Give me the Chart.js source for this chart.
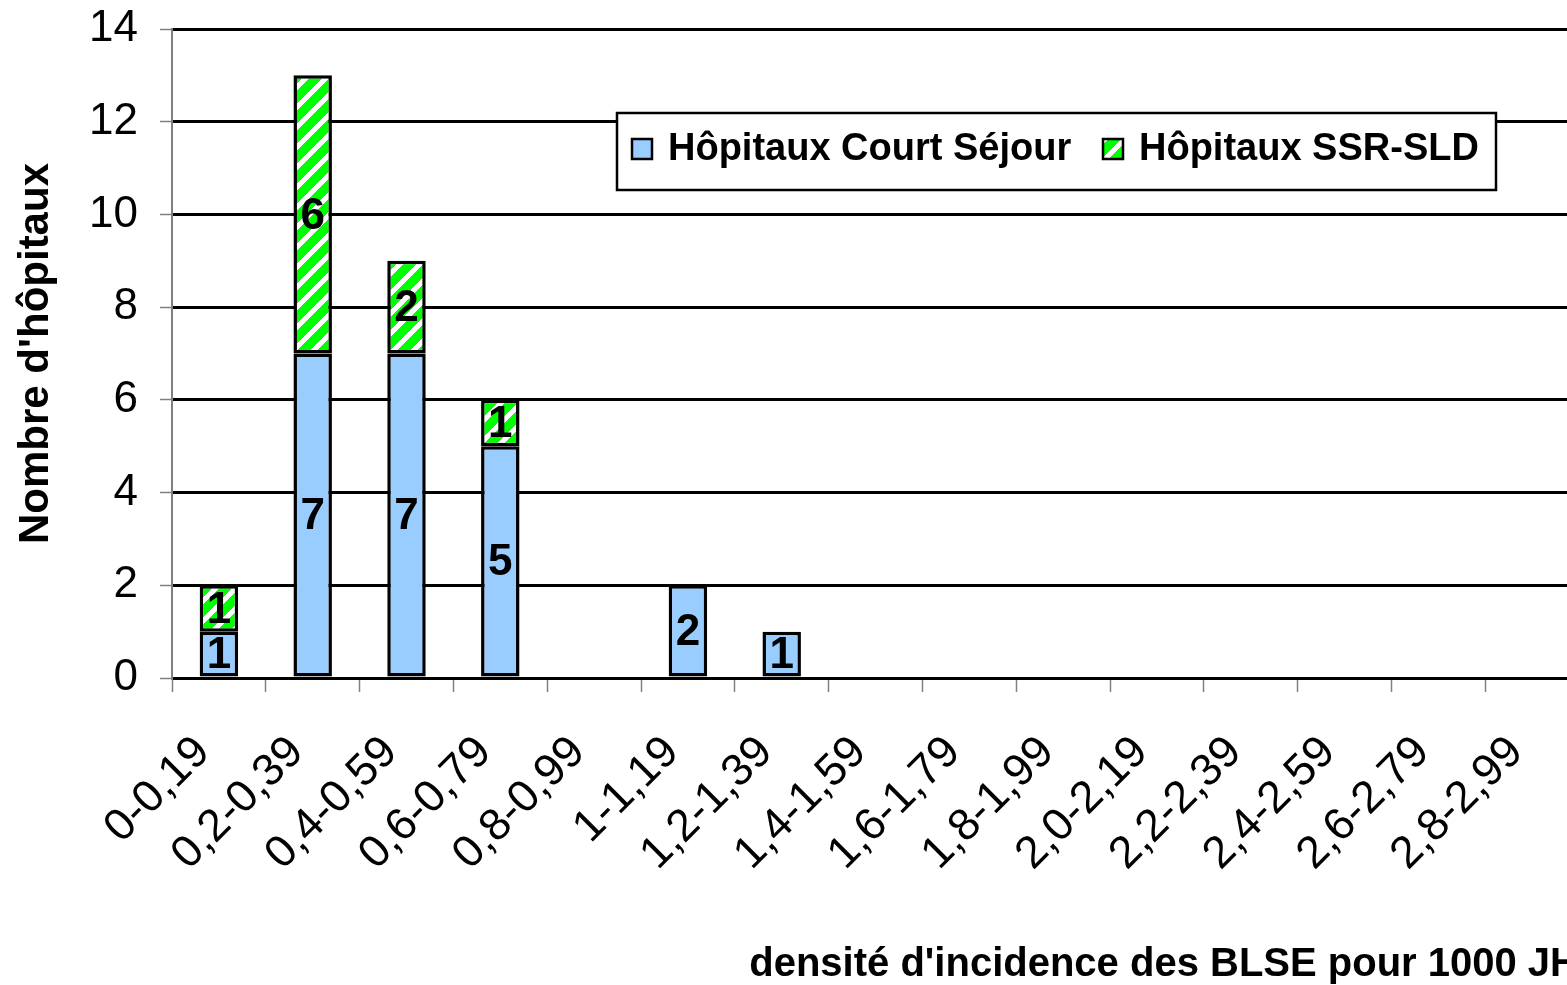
<!DOCTYPE html>
<html>
<head>
<meta charset="utf-8">
<script src="https://cdn.jsdelivr.net/npm/chart.js@4.4.1/dist/chart.umd.min.js"></script>
<style>
  html, body { margin: 0; padding: 0; background: #fff; overflow: hidden; }
  #wrap { width: 1600px; height: 985px; }
</style>
</head>
<body>
<div id="wrap"><canvas id="graphBLSE" width="1600" height="985"></canvas></div>
<script>
// Classes de densité d'incidence (axe X)
const categories = ['0-0,19', '0,2-0,39', '0,4-0,59', '0,6-0,79', '0,8-0,99', '1-1,19', '1,2-1,39',
  '1,4-1,59', '1,6-1,79', '1,8-1,99', '2,0-2,19', '2,2-2,39', '2,4-2,59', '2,6-2,79', '2,8-2,99'];

// Nombre d'hôpitaux par type
const courtSejour = [1, 7, 7, 5, 0, 2, 1, 0, 0, 0, 0, 0, 0, 0, 0];
const ssrSld      = [1, 6, 2, 1, 0, 0, 0, 0, 0, 0, 0, 0, 0, 0, 0];

const seriesNames = ['Hôpitaux Court Séjour', 'Hôpitaux SSR-SLD'];
const yTicks = [0, 2, 4, 6, 8, 10, 12, 14];

const BLEU = '#99CCFF';

// Motif hachuré vert/blanc (diagonales "/")
function hachures() {
  const s = 20, w = 7;
  const c = document.createElement('canvas');
  c.width = s; c.height = s;
  const g = c.getContext('2d');
  const img = g.createImageData(s, s);
  for (let y = 0; y < s; y++) {
    for (let x = 0; x < s; x++) {
      const i = (y * s + x) * 4;
      const blanc = ((x + y) % s) < w;
      img.data[i] = blanc ? 255 : 0;
      img.data[i + 1] = 255;
      img.data[i + 2] = blanc ? 255 : 0;
      img.data[i + 3] = 255;
    }
  }
  g.putImageData(img, 0, 0);
  return c;
}
const ctx = document.getElementById('graphBLSE').getContext('2d');
const motifVert = ctx.createPattern(hachures(), 'repeat');

// Valeurs au centre de chaque segment
const etiquettes = {
  id: 'etiquettes',
  afterDatasetsDraw(chart) {
    const c = chart.ctx;
    c.save();
    c.font = 'bold 44px "Liberation Sans", Arial, sans-serif';
    c.fillStyle = '#000';
    c.textAlign = 'center';
    c.textBaseline = 'middle';
    chart.data.datasets.forEach((ds, di) => {
      chart.getDatasetMeta(di).data.forEach((bar, i) => {
        const v = ds.data[i];
        if (!v) return;
        c.fillText(String(v), bar.x, (bar.y + bar.base) / 2 + 2);
      });
    });
    c.restore();
  }
};

// Légende encadrée à l'intérieur du graphique
const legendeBoite = {
  id: 'legendeBoite',
  afterDraw(chart) {
    const c = chart.ctx;
    c.save();
    c.fillStyle = '#fff';
    c.fillRect(617, 113, 879, 77);
    c.strokeStyle = '#000';
    c.lineWidth = 2.5;
    c.strokeRect(617, 113, 879, 77);
    c.font = 'bold 38px "Liberation Sans", Arial, sans-serif';
    c.textBaseline = 'middle';
    c.textAlign = 'left';
    const items = [
      { x: 632, fill: BLEU, text: seriesNames[0] },
      { x: 1103, fill: motifVert, text: seriesNames[1] }
    ];
    items.forEach(it => {
      c.fillStyle = it.fill;
      c.fillRect(it.x, 139, 20, 20);
      c.strokeStyle = '#000';
      c.lineWidth = 2.5;
      c.strokeRect(it.x, 139, 20, 20);
      c.fillStyle = '#000';
      c.fillText(it.text, it.x + 36, 150);
    });
    c.restore();
  }
};

new Chart(ctx, {
  type: 'bar',
  data: {
    labels: categories,
    datasets: [
      {
        label: seriesNames[0],
        data: courtSejour,
        backgroundColor: BLEU,
        borderColor: '#000',
        borderWidth: 3.5,
        borderSkipped: false,
        barPercentage: 0.41,
        categoryPercentage: 1
      },
      {
        label: seriesNames[1],
        data: ssrSld,
        backgroundColor: motifVert,
        borderColor: '#000',
        borderWidth: 3.5,
        borderSkipped: false,
        barPercentage: 0.41,
        categoryPercentage: 1
      }
    ]
  },
  options: {
    responsive: false,
    animation: false,
    layout: { padding: { top: 29, left: 0, right: 21, bottom: 0 } },
    plugins: {
      legend: { display: false },
      tooltip: { enabled: false }
    },
    scales: {
      x: {
        stacked: true,
        afterFit: (s) => { s.height = 307; s.paddingLeft = 0; s.paddingRight = 0; },
        grid: {
          display: true,
          drawOnChartArea: false,
          drawTicks: true,
          tickLength: 14,
          tickColor: '#808080',
          tickWidth: 1.5,
          offset: true
        },
        border: { color: '#000', width: 2 },
        ticks: {
          autoSkip: false,
          minRotation: 45,
          maxRotation: 45,
          padding: 34,
          labelOffset: -16,
          color: '#000',
          font: { family: '"Liberation Sans", Arial, sans-serif', size: 45 }
        },
        title: {
          display: true,
          text: "densité d'incidence des BLSE pour 1000 JH",
          align: 'end',
          color: '#000',
          padding: { top: 0, bottom: 0 },
          font: { family: '"Liberation Sans", Arial, sans-serif', size: 40, weight: 'bold', lineHeight: 1 }
        }
      },
      y: {
        stacked: true,
        min: 0,
        max: 14,
        afterFit: (s) => { s.width = 172; s.paddingTop = 0; s.paddingBottom = 0; },
        afterBuildTicks: (s) => { s.ticks = yTicks.map(v => ({ value: v })); },
        grid: {
          color: '#000',
          lineWidth: 3,
          drawTicks: true,
          tickLength: 12,
          tickColor: '#808080',
          tickWidth: 1.5
        },
        border: { color: '#808080', width: 2 },
        ticks: {
          padding: 22,
          color: '#000',
          font: { family: '"Liberation Sans", Arial, sans-serif', size: 44 }
        },
        title: {
          display: true,
          text: "Nombre d'hôpitaux",
          color: '#000',
          padding: { top: 11, bottom: 0 },
          font: { family: '"Liberation Sans", Arial, sans-serif', size: 42, weight: 'bold' }
        }
      }
    }
  },
  plugins: [etiquettes, legendeBoite]
});
</script>
</body>
</html>
